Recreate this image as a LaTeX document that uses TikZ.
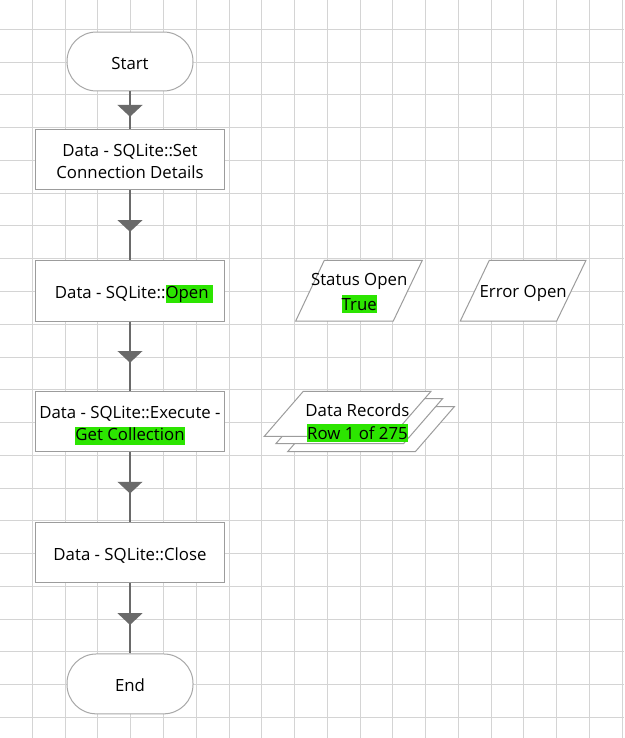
\documentclass[tikz,border=0pt]{standalone}
\usepackage{fontspec}
\setmainfont{Open Sans}
\usetikzlibrary{decorations.markings}
\definecolor{gridc}{HTML}{D4D4D4}
\definecolor{edgec}{HTML}{9C9C9C}
\definecolor{termc}{HTML}{A8A8A8}
\definecolor{linec}{HTML}{6A6A6A}
\definecolor{hl}{HTML}{2CE500}
\newsavebox\hlsave
\newcommand\hlbox[2][0pt]{\sbox\hlsave{#2}\smash{\rlap{\color{hl}\rule[\dimexpr-3.75pt+#1\relax]{\wd\hlsave}{13.5pt}}}\usebox\hlsave}
\newcommand\lsr{\rule[-2.2pt]{0pt}{16.3pt}}
\newcommand\lsp{\rule[-2.6pt]{0pt}{17.25pt}}
\begin{document}
\begin{tikzpicture}[x=0.75pt,y=-0.75pt,
  font=\fontsize{12.6}{16.3}\selectfont,
  term/.style={draw=termc, line width=0.75pt, fill=white, minimum width=94.5pt, minimum height=44.2pt, rounded corners=22pt, inner sep=0pt},
  proc/.style={draw=edgec, line width=0.75pt, fill=white, minimum width=141.4pt, minimum height=45.4pt, inner sep=0pt, align=center},
  para/.style={draw=edgec, line width=0.75pt, fill=white},
  ptext/.style={inner sep=0pt, align=center, font=\fontsize{12.6}{17.25}\selectfont},
  flow/.style={draw=linec, line width=1pt, postaction={decorate},
    decoration={markings, mark=at position 0.5 with {\fill[linec] (4.9pt,0pt) -- (-3.9pt,9.4pt) -- (-3.9pt,-9.4pt) -- cycle;}}}]
\useasboundingbox (0,0) rectangle (624,738);
\fill[white] (0,0) rectangle (624,738);
% grid
\foreach \i in {0,...,18} \draw[gridc, line width=0.75pt] ({32.4+32.77*\i},0) -- ({32.4+32.77*\i},738);
\foreach \j in {0,...,21} \draw[gridc, line width=0.75pt] (0,{29.3+32.77*\j}) -- (624,{29.3+32.77*\j});
% main flow
\node[term] (start) at (130,61.5) {\lsr Start};
\node[proc] (b1) at (130,159.7) {\lsr Data - SQLite::Set\\\lsr Connection Details};
\node[proc] (b2) at (130,290.9) {\lsr\hspace*{6pt}Data - SQLite::\hlbox{Open }};
\node[proc] (b3) at (130,421.5) {\lsr Data - SQLite::Execute -\\\lsr\hlbox{Get Collection}};
\node[proc] (b4) at (130,552.5) {\lsr Data - SQLite::Close};
\node[term, minimum height=44.9pt] (end) at (130,683.9) {\lsr End};
\draw[flow] (start) -- (b1);
\draw[flow] (b1) -- (b2);
\draw[flow] (b2) -- (b3);
\draw[flow] (b3) -- (b4);
\draw[flow] (b4) -- (end);
% data shapes
\draw[para] (324.3,260.3) -- (422.3,260.3) -- (393.3,321) -- (295.7,321) -- cycle;
\node[ptext] (status) at (359.2,290.1) {\lsp Status Open\\\lsp\hlbox[2pt]{True}};
\draw[para] (489.3,260.3) -- (586,260.3) -- (556.7,321) -- (460.3,321) -- cycle;
\node[ptext] (error) at (523.2,289.6) {\lsp Error Open};
\draw[para] (326.7,406.6) -- (454.4,406.6) -- (415.4,451.6) -- (287.7,451.6) -- cycle;
\draw[para] (315,398.5) -- (442.7,398.5) -- (403.7,443.5) -- (276,443.5) -- cycle;
\draw[para] (303.3,391.3) -- (431,391.3) -- (392,436.3) -- (264.3,436.3) -- cycle;
\node[ptext] (records) at (357.5,420.1) {\lsp Data Records\\\lsp\hlbox[2pt]{Row 1 of 275}};
\end{tikzpicture}
\end{document}
